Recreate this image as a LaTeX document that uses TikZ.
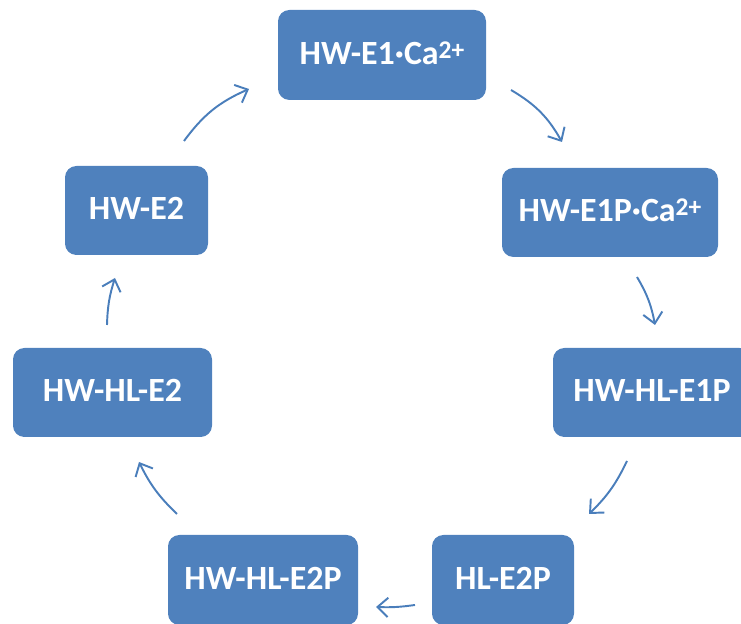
\documentclass[tikz,border=0pt]{standalone}
\usepackage{fontspec}
\setmainfont{Carlito}
\usepackage{tikz}
\usetikzlibrary{arrows.meta}
\usepackage{xcolor}
\definecolor{stateBlue}{RGB}{79, 129, 189}
\definecolor{cycleArrow}{RGB}{74, 126, 187}
\newcommand{\charge}[1]{\raisebox{3.6pt}{\fontsize{14.5}{15}\selectfont #1}}

\begin{document}
\begin{tikzpicture}[x=0.02cm, y=0.02cm,
    state/.style={fill=stateBlue, rounded corners=6.5pt, text=white,
      font=\fontsize{19.3}{21}\selectfont\bfseries, inner sep=0pt,
      text height=10.7pt, text depth=0pt},
    cyc/.style={cycleArrow, line width=1.1pt, bend left=#1,
      -{Straight Barb[length=6pt, width=11pt, line width=1.1pt]}}]
  \useasboundingbox (0,0) rectangle (741,624);
  % the seven states of the cycle
  \node[state, minimum width=208*0.02cm, minimum height=90*0.02cm] (e1ca) at (382,569) {HW-E1·Ca\charge{2+}};
  \node[state, minimum width=216*0.02cm, minimum height=89*0.02cm] (e1pca) at (610,411.5) {HW-E1P·Ca\charge{2+}};
  \node[state, minimum width=198*0.02cm, minimum height=89*0.02cm] (hle1p) at (652,231.5) {HW-HL-E1P};
  \node[state, minimum width=142*0.02cm, minimum height=90*0.02cm] (hle2p) at (503,44) {HL-E2P};
  \node[state, minimum width=190*0.02cm, minimum height=90*0.02cm] (hwhle2p) at (263,44) {HW-HL-E2P};
  \node[state, minimum width=199*0.02cm, minimum height=89*0.02cm] (hwhle2) at (112.5,231.5) {HW-HL-E2};
  \node[state, minimum width=143*0.02cm, minimum height=89*0.02cm] (hwe2) at (136.5,413.5) {HW-E2};
  % arrow ends
  \coordinate (a1s) at (511,534); \coordinate (a1e) at (562,482);
  \coordinate (a2s) at (637,347); \coordinate (a2e) at (655,299);
  \coordinate (a3s) at (627,163); \coordinate (a3e) at (589,110);
  \coordinate (a4s) at (415,19);  \coordinate (a4e) at (376,17);
  \coordinate (a5s) at (177,110); \coordinate (a5e) at (139,162);
  \coordinate (a6s) at (107,299); \coordinate (a6e) at (115,346);
  \coordinate (a7s) at (184,483); \coordinate (a7e) at (249,535);
  \draw[cyc=15] (a1s) to (a1e);
  \draw[cyc=10] (a2s) to (a2e);
  \draw[cyc=10] (a3s) to (a3e);
  \draw[cyc=5] (a4s) to (a4e);
  \draw[cyc=10] (a5s) to (a5e);
  \draw[cyc=8] (a6s) to (a6e);
  \draw[cyc=15] (a7s) to (a7e);
\end{tikzpicture}
\end{document}
